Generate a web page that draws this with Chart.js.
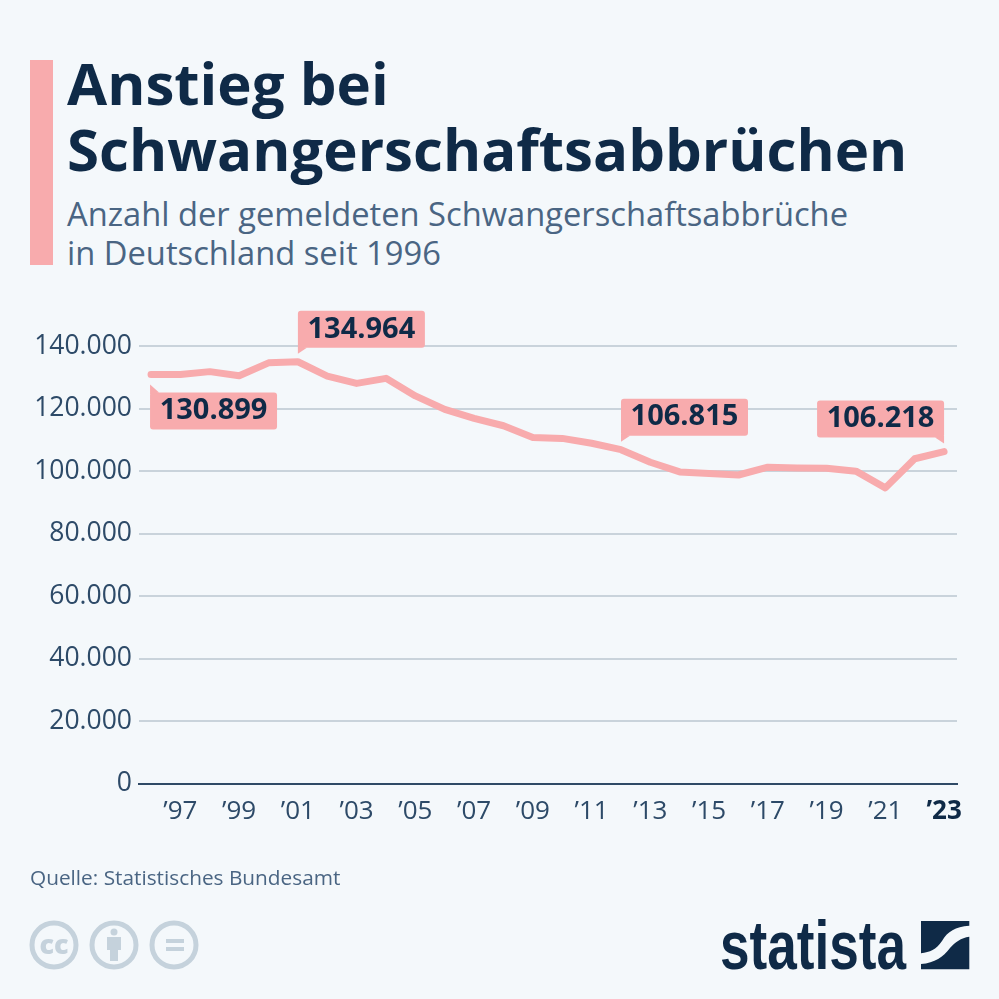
<!DOCTYPE html>
<html lang="de">
<head>
<meta charset="utf-8">
<title>Anstieg bei Schwangerschaftsabbrüchen</title>
<script src="https://cdn.jsdelivr.net/npm/chart.js@4/dist/chart.umd.min.js"></script>
<style>
    html, body { margin: 0; padding: 0; background: #f4f8fb; }
    body { width: 999px; height: 999px; position: relative; overflow: hidden; font-family: "Open Sans", sans-serif; }
    #accent { position: absolute; left: 30px; top: 60px; width: 23px; height: 205px; background: #f8abad; }
    #title { position: absolute; left: 67px; top: 50px; margin: 0; font-size: 58.2px; line-height: 66px; font-weight: 700; color: #0f2a47; white-space: nowrap; }
    #subtitle { position: absolute; left: 67px; top: 195px; margin: 0; font-size: 32.7px; line-height: 38.5px; font-weight: 400; color: #4a6583; white-space: nowrap; }
    #source { position: absolute; left: 30px; top: 864px; font-size: 20.8px; line-height: 27px; color: #4a6583; white-space: nowrap; }
    #chartBox { position: absolute; left: 0; top: 0; width: 999px; height: 999px; }
    #marks { position: absolute; left: 0; top: 0; }
</style>
</head>
<body>
<div id="accent"></div>
<h1 id="title">Anstieg bei<br>Schwangerschaftsabbrüchen</h1>
<p id="subtitle">Anzahl der gemeldeten Schwangerschaftsabbrüche<br>in Deutschland seit 1996</p>
<div id="chartBox"><canvas id="chart" width="999" height="999"></canvas></div>
<div id="source">Quelle: Statistisches Bundesamt</div>
<svg id="marks" width="999" height="999" viewBox="0 0 999 999">
    <g fill="none" stroke="#c5d2dc" stroke-width="5">
        <circle cx="54" cy="945" r="22"/>
        <circle cx="114" cy="945" r="22"/>
        <circle cx="174" cy="945" r="22"/>
    </g>
    <text x="54" y="954" text-anchor="middle" font-family="Open Sans" font-weight="800" font-size="27" fill="#c5d2dc">cc</text>
    <g fill="#c5d2dc">
        <circle cx="114" cy="932" r="3.5"/>
        <rect x="107" y="937" width="14" height="13"/>
        <rect x="110" y="950" width="8" height="11"/>
        <rect x="166" y="939" width="18" height="4"/>
        <rect x="166" y="947" width="18" height="4"/>
    </g>
    <text x="720" y="968.5" font-family="Liberation Sans Narrow, Liberation Sans" font-weight="700" font-size="68" textLength="186" lengthAdjust="spacingAndGlyphs" fill="#0f2a47">statista</text>
    <g fill="#0f2a47">
        <path d="M921 921 L969.3 921 L969.3 925.7 C955 927 948 931 942 941 C936 950 930 952 921 953.3 Z"/>
        <path d="M969.3 936.7 L969.3 969.3 L921 969.3 L921 964 C935 963 943 957 950 948 C955 942 961 938 969.3 936.7 Z"/>
    </g>
</svg>
<script>
const years = [1996, 1997, 1998, 1999, 2000, 2001, 2002, 2003, 2004, 2005, 2006, 2007, 2008, 2009,
    2010, 2011, 2012, 2013, 2014, 2015, 2016, 2017, 2018, 2019, 2020, 2021, 2022, 2023];
const abortions = [130899, 130890, 131795, 130471, 134609, 134964, 130387, 128030, 129650, 124023, 119710, 116871, 114484, 110694,
    110431, 108867, 106815, 102802, 99715, 99237, 98721, 101209, 100986, 100893, 99948, 94596, 103927, 106218];
const tickYears = [1997, 1999, 2001, 2003, 2005, 2007, 2009, 2011, 2013, 2015, 2017, 2019, 2021, 2023];
const tickValues = [0, 20000, 40000, 60000, 80000, 100000, 120000, 140000];
const calloutYears = [1996, 2001, 2012, 2023];
const calloutPlacement = ['below', 'aboveRight', 'aboveRight', 'aboveLeft'];

const INK = '#0f2a47';
const TICK = '#2d4a68';
const PINK = '#f8abad';
const GRID = '#c9d3db';

const formatNumber = v => String(v).replace(/\B(?=(\d{3})+$)/g, '.');

// speech-bubble labels, anchored on the data point
const calloutPlugin = {
    id: 'callouts',
    afterDatasetsDraw(chart) {
        const ctx = chart.ctx;
        const x = chart.scales.x;
        const y = chart.scales.y;
        const w = 127, h = 37, tail = 6, tailW = 9;

        calloutYears.forEach((year, i) => {
            const value = abortions[years.indexOf(year)];
            const px = x.getPixelForValue(year);
            const py = y.getPixelForValue(value);
            const place = calloutPlacement[i];
            let left, top, tip, base1, base2;

            if (place === 'below') {
                left = px - 1;
                top = py + 18;
                tip = [left, top - tail - 2];
                base1 = [left, top + 2];
                base2 = [left + tailW, top];
            } else if (place === 'aboveRight') {
                left = px;
                top = py - 14 - h;
                tip = [left, top + h + tail];
                base1 = [left, top + h - 2];
                base2 = [left + tailW, top + h];
            } else {
                left = px - w;
                top = py - 14 - h;
                tip = [left + w, top + h + tail];
                base1 = [left + w, top + h - 2];
                base2 = [left + w - tailW, top + h];
            }

            ctx.save();
            ctx.fillStyle = PINK;
            ctx.beginPath();
            ctx.roundRect(left, top, w, h, 3);
            ctx.fill();
            ctx.beginPath();
            ctx.moveTo(tip[0], tip[1]);
            ctx.lineTo(base1[0], base1[1]);
            ctx.lineTo(base2[0], base2[1]);
            ctx.closePath();
            ctx.fill();
            ctx.fillStyle = INK;
            ctx.font = '700 29px "Open Sans"';
            ctx.textAlign = 'center';
            ctx.textBaseline = 'middle';
            ctx.fillText(formatNumber(value), left + w / 2, top + h / 2);
            ctx.restore();
        });
    }
};

new Chart(document.getElementById('chart'), {
    type: 'line',
    data: {
        datasets: [{
            data: years.map((year, i) => ({ x: year, y: abortions[i] })),
            borderColor: PINK,
            borderWidth: 7,
            borderCapStyle: 'round',
            borderJoinStyle: 'round',
            tension: 0,
            fill: false,
            clip: false,
            pointRadius: 0
        }]
    },
    options: {
        responsive: false,
        animation: false,
        layout: { padding: { left: 0, right: 42, top: 346, bottom: 0 } },
        plugins: { legend: { display: false }, tooltip: { enabled: false }, title: { display: false } },
        scales: {
            x: {
                type: 'linear',
                min: 1995.59,
                max: 2023.44,
                afterBuildTicks: scale => { scale.ticks = tickYears.map(value => ({ value })); },
                afterFit: scale => { scale.height = 999 - 783.5; },
                grid: { display: false },
                border: { display: true, color: '#2f4a66', width: 2 },
                ticks: {
                    autoSkip: false,
                    maxRotation: 0,
                    padding: 4,
                    color: (c) => c.tick && c.tick.value === 2023 ? INK : TICK,
                    font: (c) => ({
                        family: 'Open Sans',
                        size: 26,
                        weight: c.tick && c.tick.value === 2023 ? '700' : '400'
                    }),
                    callback: value => '\u2019' + String(value).slice(2)
                }
            },
            y: {
                min: 0,
                max: 140000,
                afterBuildTicks: scale => { scale.ticks = tickValues.map(value => ({ value })); },
                afterFit: scale => { scale.width = 139; },
                border: { display: false },
                grid: {
                    color: c => c.tick && c.tick.value === 0 ? 'transparent' : GRID,
                    lineWidth: 2,
                    drawTicks: false
                },
                ticks: {
                    padding: 7,
                    color: TICK,
                    font: { family: 'Open Sans', size: 26.5 },
                    callback: value => formatNumber(value)
                }
            }
        }
    },
    plugins: [calloutPlugin]
});
</script>
</body>
</html>
